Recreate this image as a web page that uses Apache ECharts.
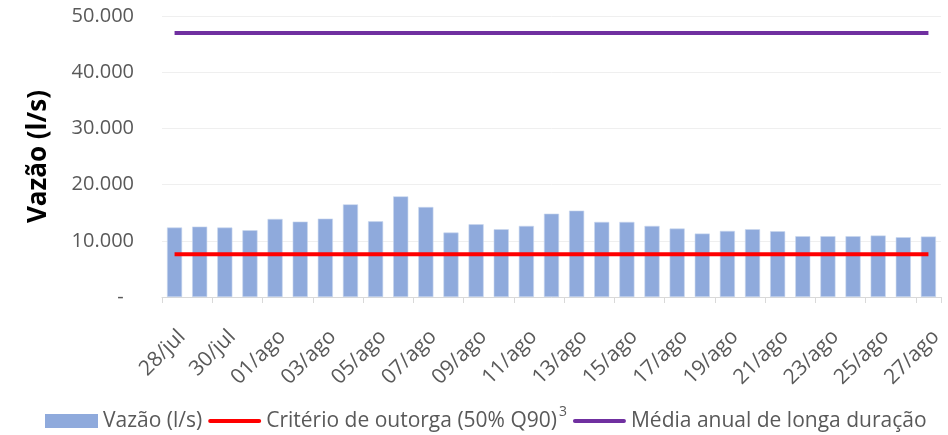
<!DOCTYPE html>
<html>
<head>
<meta charset="utf-8">
<script src="https://cdn.jsdelivr.net/npm/echarts@6/dist/echarts.min.js"></script>
<style>
    html, body { margin: 0; padding: 0; background: #fff; }
    #chart1 { width: 948px; height: 435px; }
</style>
</head>
<body>
<div id="chart1"></div>
<script>
// dias (28/jul a 27/ago)
var categories = ['28/jul','29/jul','30/jul','31/jul',
    '01/ago','02/ago','03/ago','04/ago','05/ago','06/ago','07/ago','08/ago','09/ago','10/ago',
    '11/ago','12/ago','13/ago','14/ago','15/ago','16/ago','17/ago','18/ago','19/ago','20/ago',
    '21/ago','22/ago','23/ago','24/ago','25/ago','26/ago','27/ago'];
// vazao diaria (l/s)
var vazao = [12360, 12530, 12360, 11880, 13890, 13420, 13950, 16490, 13470, 17910,
    16020, 11470, 12940, 12060, 12650, 14830, 15370, 13360, 13360, 12650,
    12180, 11290, 11760, 12060, 11700, 10820, 10820, 10820, 10940, 10640, 10760];
var criterioValor = 7590;   // 50% Q90
var mediaValor = 46980;     // media anual de longa duracao
var yTicks = [0, 10000, 20000, 30000, 40000, 50000];

var nomeVazao = 'Vazão (l/s)';
var nomeCriterio = 'Critério de outorga (50% Q90)';
var nomeMedia = 'Média anual de longa duração';

function fill(v) {
    var arr = [];
    for (var i = 0; i < categories.length; i++) arr.push(v);
    return arr;
}

function fmtNum(v) {
    if (v == 0) return '-  ';
    return String(v).replace(/\B(?=(\d{3})+(?!\d))/g, '.');
}

setchart('chart1');

function setchart(chartName) {
    var myChart = echarts.init(document.getElementById(chartName));
    var font = '"Open Sans", sans-serif';
    var lineIcon = 'path://M2,0 L52,0 Q54,0 54,2 Q54,4 52,4 L2,4 Q0,4 0,2 Q0,0 2,0 Z';
    var option = {
        animation: false,
        textStyle: {fontFamily: font},
        grid: {left: 162, right: 7, top: 16, bottom: 138, containLabel: false},
        legend: {
            top: 400,
            left: 40,
            itemWidth: 53,
            itemHeight: 14,
            itemGap: 6,
            textStyle: {
                fontFamily: font, fontSize: 21, color: '#595959',
                rich: {
                    t: {fontFamily: font, fontSize: 21, color: '#595959'},
                    s: {fontFamily: font, fontSize: 14, color: '#595959', verticalAlign: 'top', padding: [0, 0, 18, 2]}
                }
            },
            formatter: function (name) {
                if (name == nomeCriterio) return '{t|' + name + '}{s|3}';
                return name;
            },
            data: [
                {name: nomeVazao, icon: 'rect', itemStyle: {borderWidth: 0}},
                {name: nomeCriterio, icon: lineIcon},
                {name: nomeMedia, icon: lineIcon}
            ]
        },
        xAxis: {
            type: 'category',
            data: categories,
            boundaryGap: true,
            axisLine: {lineStyle: {color: '#D9D9D9', width: 1}},
            axisTick: {show: true, interval: 1, length: 6, lineStyle: {color: '#D9D9D9'}},
            axisLabel: {interval: 1, rotate: 45, fontSize: 21, color: '#595959', fontFamily: font,
                margin: 29, align: 'right', verticalAlign: 'top'},
            splitLine: {show: false}
        },
        yAxis: {
            type: 'value',
            min: yTicks[0],
            max: yTicks[yTicks.length - 1],
            interval: yTicks[1] - yTicks[0],
            name: 'Vazão (l/s)',
            nameLocation: 'middle',
            nameGap: 110,
            nameTextStyle: {fontSize: 26, fontWeight: 'bold', color: '#000', fontFamily: font},
            axisLine: {show: false},
            axisTick: {show: false},
            axisLabel: {fontSize: 20, color: '#595959', margin: 28, fontFamily: font, formatter: fmtNum},
            splitLine: {lineStyle: {color: '#EFEFEF', width: 1}}
        },
        series: [
            {
                name: nomeVazao,
                type: 'bar',
                data: vazao,
                barCategoryGap: '40%',
                itemStyle: {color: '#8FAADC', borderColor: '#C9D6EF', borderWidth: 0.6}
            },
            {
                name: nomeCriterio,
                type: 'line',
                data: fill(criterioValor),
                symbol: 'none',
                lineStyle: {color: '#FF0000', width: 4},
                itemStyle: {color: '#FF0000'}
            },
            {
                name: nomeMedia,
                type: 'line',
                data: fill(mediaValor),
                symbol: 'none',
                lineStyle: {color: '#7030A0', width: 4},
                itemStyle: {color: '#7030A0'}
            }
        ]
    };
    myChart.setOption(option);
}
</script>
</body>
</html>
